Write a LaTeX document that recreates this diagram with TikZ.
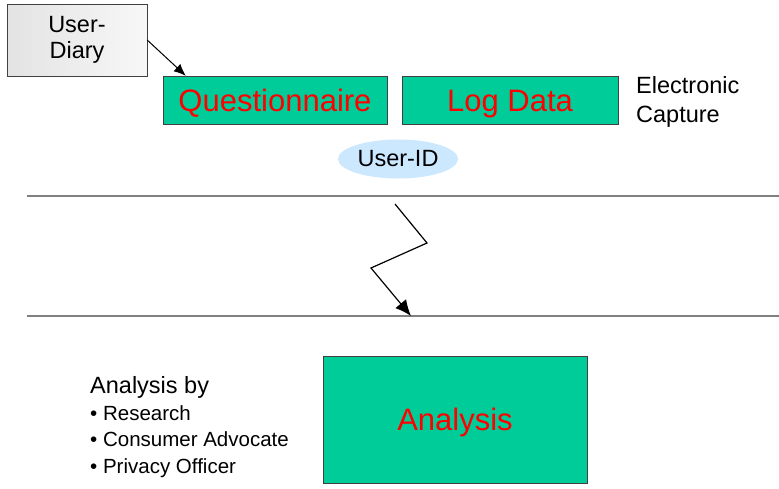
\documentclass[tikz,border=0pt]{standalone}
\usepackage{fontspec}
\setmainfont{Liberation Sans}
\usetikzlibrary{shapes.geometric, arrows.meta}
\definecolor{boxgreen}{HTML}{00CC99}
\definecolor{idblue}{HTML}{CCE8FF}
\tikzset{
  databox/.style={draw=black!75, fill=boxgreen, text=red, inner sep=0pt,
    text height=22pt, text depth=0pt, font=\fontsize{31}{36}\selectfont},
  notetext/.style={font=\fontsize{23.5}{29}\selectfont, align=left, inner sep=0pt},
  sepline/.style={draw=black!50, line width=2pt}
}
\begin{document}
\begin{tikzpicture}[>=latex, x=1pt, y=-1pt]
\useasboundingbox (0,0) rectangle (779,488);
\node[draw=black!75, left color=black!11, right color=black!3, inner sep=0pt,
  minimum width=140, minimum height=72, notetext, font=\fontsize{23.5}{26}\selectfont,
  align=center] (diary) at (77,40) {User-\\Diary};
\node[databox, minimum width=224, minimum height=48] (quest) at (275,100) {Questionnaire};
\node[databox, minimum width=216, minimum height=48] (logdata) at (510,100) {Log Data};
\node[notetext, anchor=west] (capture) at (636,102) {Electronic\\Capture};
\node[ellipse, fill=idblue, minimum width=120, minimum height=39, inner sep=0pt,
  font=\fontsize{23.5}{28}\selectfont] (userid) at (398,159) {User-ID};
\draw[->, line width=1pt, >={Latex[length=12pt,width=10pt]}] (diary.east) -- ([xshift=23pt]quest.north west);
\coordinate (la) at (27,196);
\coordinate (lb) at (779,196);
\coordinate (lc) at (27,316);
\coordinate (ld) at (779,316);
\draw[sepline] (la) -- (lb);
\draw[sepline] (lc) -- (ld);
\coordinate (z1) at (395,204);
\coordinate (z2) at (427,243);
\coordinate (z3) at (371,268);
\coordinate (z4) at (411,316);
\draw[->, line width=1.2pt, >={Latex[length=16pt,width=14pt]}] (z1) -- (z2) -- (z3) -- (z4);
\node[databox, minimum width=264, minimum height=127] (analysis) at (455,419.5) {Analysis};
\node[notetext, anchor=base west] (by) at (90,393) {Analysis by};
\node[anchor=north west, inner sep=0pt, font=\fontsize{20.5}{26.5}\selectfont, align=left]
  (roles) at (90,405) {\textbullet\ Research\\\textbullet\ Consumer Advocate\\\textbullet\ Privacy Officer};
\end{tikzpicture}
\end{document}
